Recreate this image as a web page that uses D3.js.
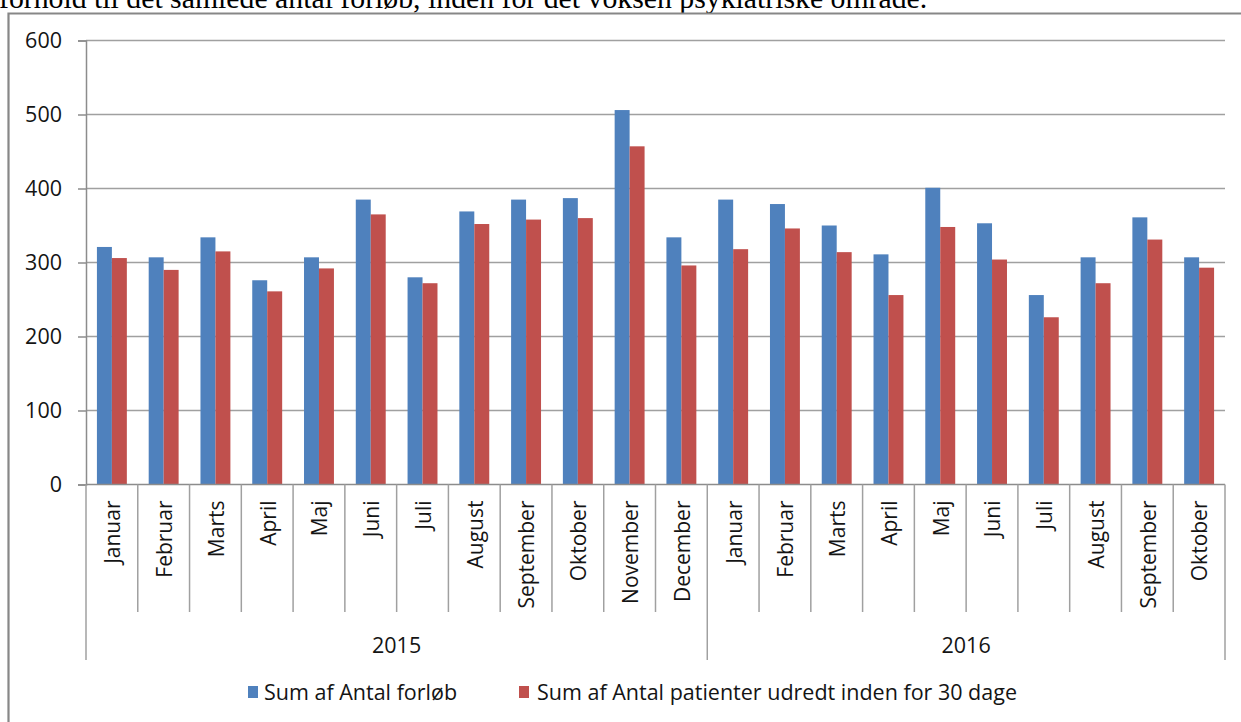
<!DOCTYPE html>
<html>
<head>
<meta charset="utf-8">
<script src="https://cdn.jsdelivr.net/npm/d3@7"></script>
<style>
  html, body { margin: 0; padding: 0; background: #fff; }
  svg { display: block; }
</style>
</head>
<body>
<svg id="chart" width="1241" height="722"></svg>
<script>
// ---- data ----
const months = ["Januar","Februar","Marts","April","Maj","Juni","Juli","August","September","Oktober","November","December",
                "Januar","Februar","Marts","April","Maj","Juni","Juli","August","September","Oktober"];
const years = ["2015","2016"];
const monthsPerYear = [12, 10];
const seriesNames = ["Sum af Antal forløb", "Sum af Antal patienter udredt inden for 30 dage"];
const forloeb = [321,307,334,276,307,385,280,369,385,387,506,334, 385,379,350,311,401,353,256,307,361,307];
const udredt  = [306,290,315,261,292,365,272,352,358,360,457,296, 318,346,314,256,348,304,226,272,331,293];
const yTicks = [0,100,200,300,400,500,600];
const captionText = "forhold til det samlede antal forløb, inden for det voksen psykiatriske område.";

// ---- layout ----
const colors = ["#4F81BD", "#C0504D"];
const font = "'Open Sans', 'Noto Sans', sans-serif";
const textColor = "#141414";
const svg = d3.select("#chart");
const plotL = 86, plotR = 1225, plotT = 40.5, plotB = 484.5;

const x = d3.scaleBand().domain(d3.range(months.length)).range([plotL, plotR]).paddingInner(0).paddingOuter(0);
const xs = d3.scaleBand().domain([0,1]).range([0, x.bandwidth()]).paddingInner(0).paddingOuter(0.73);
const y = d3.scaleLinear().domain([0, 600]).range([plotB, plotT]);

// caption (partially cut at top, as in the source image)
const cap = svg.append("text")
  .attr("x", -1).attr("y", 8)
  .attr("font-family", "'Liberation Serif', 'Times New Roman', serif")
  .attr("font-size", 20)
  .attr("fill", "#000")
  .text(captionText);
const capW = cap.node().getComputedTextLength();
cap.attr("font-size", 20 * 929 / capW);

// frame
svg.append("path")
  .attr("d", "M8.5,722 L8.5,13.5 L1241,13.5")
  .attr("fill", "none").attr("stroke", "#878787").attr("stroke-width", 2.2);

// gridlines
svg.append("g").selectAll("line").data(yTicks.filter(d => d > 0)).join("line")
  .attr("x1", plotL).attr("x2", plotR)
  .attr("y1", d => y(d)).attr("y2", d => y(d))
  .attr("stroke", "#a0a0a0").attr("stroke-width", 1.5);

// y axis
const yAxis = d3.axisLeft(y).tickValues(yTicks).tickSize(8).tickPadding(16).tickFormat(d3.format("d"));
const ya = svg.append("g").attr("transform", `translate(${plotL},0)`).call(yAxis);
ya.select(".domain").attr("stroke", "#8c8c8c").attr("stroke-width", 1.5);
ya.selectAll(".tick line").attr("stroke", "#8c8c8c").attr("stroke-width", 1.5);
ya.selectAll(".tick text").attr("font-family", font).attr("font-size", 21.5).attr("fill", textColor);

// bars
const series = [forloeb, udredt];
series.forEach((vals, si) => {
  svg.append("g").selectAll("rect").data(vals).join("rect")
    .attr("x", (d, i) => x(i) + xs(si))
    .attr("width", xs.bandwidth())
    .attr("y", d => y(d))
    .attr("height", d => y(0) - y(d))
    .attr("fill", colors[si]);
});

// x baseline
svg.append("line").attr("x1", plotL).attr("x2", plotR).attr("y1", y(0)).attr("y2", y(0))
  .attr("stroke", "#8c8c8c").attr("stroke-width", 1.5);

// month dividers
const yearStarts = [0];
monthsPerYear.forEach((n, i) => yearStarts.push(yearStarts[i] + n));
const boundaries = d3.range(months.length + 1);
svg.append("g").selectAll("line").data(boundaries).join("line")
  .attr("x1", i => i < months.length ? x(i) : plotR)
  .attr("x2", i => i < months.length ? x(i) : plotR)
  .attr("y1", y(0))
  .attr("y2", i => yearStarts.includes(i) ? 660 : 612)
  .attr("stroke", "#a0a0a0").attr("stroke-width", 1.5);

// month labels
svg.append("g").selectAll("text").data(months).join("text")
  .attr("transform", (d, i) => `translate(${x(i) + x.bandwidth() / 2 + 1},${y(0) + 16}) rotate(-90)`)
  .attr("text-anchor", "end")
  .attr("dy", "0.35em")
  .attr("font-family", font).attr("font-size", 21).attr("fill", textColor)
  .text(d => d);

// year labels
svg.append("g").selectAll("text").data(years).join("text")
  .attr("x", (d, i) => {
    const a = x(yearStarts[i]);
    const b = yearStarts[i + 1] < months.length ? x(yearStarts[i + 1]) : plotR;
    return (a + b) / 2;
  })
  .attr("y", 645).attr("dy", "0.35em")
  .attr("text-anchor", "middle")
  .attr("font-family", font).attr("font-size", 21.5).attr("fill", textColor)
  .text(d => d);

// legend
const legendX = [248, 519];
const lg = svg.append("g").selectAll("g").data(seriesNames).join("g")
  .attr("transform", (d, i) => `translate(${legendX[i]},692)`);
lg.append("rect").attr("x", 0).attr("y", -6).attr("width", 10).attr("height", 12)
  .attr("fill", (d, i) => colors[i]);
lg.append("text").attr("x", (d, i) => i === 0 ? 16 : 18).attr("dy", "0.35em")
  .attr("font-family", font).attr("font-size", 21.5).attr("fill", textColor)
  .text(d => d);
</script>
</body>
</html>
